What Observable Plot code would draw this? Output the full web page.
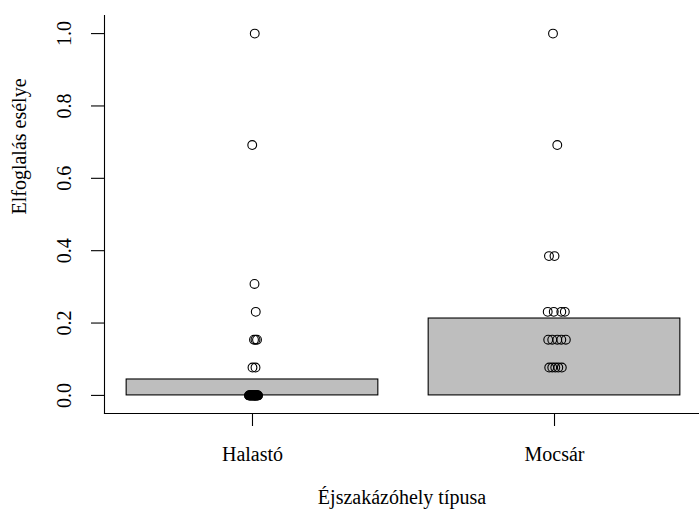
<!DOCTYPE html>
<html>
<head>
<meta charset="utf-8">
<script src="https://cdn.jsdelivr.net/npm/d3@7"></script>
<script src="https://cdn.jsdelivr.net/npm/@observablehq/plot@0.6"></script>
<style>
  html, body { margin: 0; padding: 0; background: #fff; }
  svg { display: block; }
  svg text { font-family: 'Liberation Serif', 'Times New Roman', serif; }
</style>
</head>
<body>
<div id="chart"></div>
<script>
// ---- data ----
const categories = ["Halastó", "Mocsár"];
const barValues = [0.044, 0.2125];
const yTicks = [0, 0.2, 0.4, 0.6, 0.8, 1.0];
const yTickLabels = ["0.0", "0.2", "0.4", "0.6", "0.8", "1.0"];
const xTitle = "Éjszakázóhely típusa";
const yTitle = "Elfoglalás esélye";

// observed points (value and small horizontal jitter in bar-width units)
const halastoValues = [1.0, 0.692, 0.308, 0.231, 0.154, 0.154, 0.154, 0.077, 0.077,
  0, 0, 0, 0, 0, 0, 0, 0, 0, 0, 0, 0, 0, 0, 0, 0, 0, 0, 0, 0, 0, 0, 0, 0, 0, 0, 0, 0];
const halastoJitter = [0.009, -0.001, 0.008, 0.013, 0.006, 0.012, 0.018, 0.000, 0.012,
  -0.014, -0.012, -0.010, -0.008, -0.006, -0.004, -0.002, 0.000, 0.002, 0.004, 0.006, 0.008, 0.010, 0.012, 0.014,
  0.016, 0.018, 0.020, 0.022, -0.013, -0.009, -0.003, 0.001, 0.005, 0.009, 0.013, 0.017, 0.021];
const mocsarValues = [1.0, 0.692, 0.385, 0.385, 0.231, 0.231, 0.231, 0.231,
  0.154, 0.154, 0.154, 0.154, 0.154, 0.077, 0.077, 0.077, 0.077, 0.077];
const mocsarJitter = [-0.006, 0.011, -0.022, 0.000, -0.027, -0.003, 0.027, 0.041,
  -0.025, -0.009, 0.011, 0.027, 0.045, -0.021, -0.009, 0.003, 0.015, 0.029];

// ---- barplot layout (width 1, space 0.2, like R barplot) ----
const barWidth = 1, space = 0.2;
const centers = categories.map((c, i) => space + i * (barWidth + space) + barWidth / 2);
const bars = categories.map((c, i) => ({
  cat: c, x1: centers[i] - barWidth / 2, x2: centers[i] + barWidth / 2, value: barValues[i]
}));
const points = [
  ...halastoValues.map((v, i) => ({cat: categories[0], x: centers[0] + halastoJitter[i], y: v})),
  ...mocsarValues.map((v, i) => ({cat: categories[1], x: centers[1] + mocsarJitter[i], y: v}))
];
const xMin = bars[0].x1, xMax = bars[bars.length - 1].x2;
const pad = (xMax - xMin) * 0.04;

const font = "Liberation Serif";

const chart = Plot.plot({
  width: 699,
  height: 514,
  marginLeft: 104,
  marginRight: 0,
  marginTop: 15,
  marginBottom: 101,
  style: {fontFamily: font, fontSize: "20px", background: "#fff", color: "#000"},
  x: {domain: [xMin - pad, xMax + pad], range: [104, 702]},
  y: {domain: [-0.05, 1.05]},
  marks: [
    Plot.frame({anchor: "left", stroke: "#000", strokeWidth: 1.1}),
    Plot.frame({anchor: "bottom", stroke: "#000", strokeWidth: 1.1}),
    Plot.rectY(bars, {x1: "x1", x2: "x2", y1: 0, y2: "value", fill: "#bebebe", stroke: "#000", strokeWidth: 1.1}),
    Plot.dot(points, {x: "x", y: "y", r: 4.4, stroke: "#000", strokeWidth: 1.1, fill: "none"}),
    Plot.axisY({ticks: yTicks, tickSize: 13, tickFormat: () => "", label: null, strokeWidth: 1.1}),
    Plot.text(yTicks, {y: d => d, text: (d, i) => yTickLabels[i], frameAnchor: "left", dx: -40, rotate: -90,
      lineAnchor: "middle", textAnchor: "middle", fontSize: 20, fontFamily: font, fontVariant: "normal"}),
    Plot.axisX({ticks: centers, tickSize: 13, tickPadding: 20, label: null, fontSize: 20, fontFamily: font, strokeWidth: 1.1,
      tickFormat: d => categories[centers.indexOf(d)]}),
    Plot.text([xTitle], {frameAnchor: "bottom", dy: 84, text: d => d, fontSize: 20, fontFamily: font, lineAnchor: "middle"}),
    Plot.text([yTitle], {frameAnchor: "left", dx: -85, text: d => d, fontSize: 20, fontFamily: font, rotate: -90, lineAnchor: "middle"})
  ]
});
document.getElementById("chart").appendChild(chart);
</script>
</body>
</html>
